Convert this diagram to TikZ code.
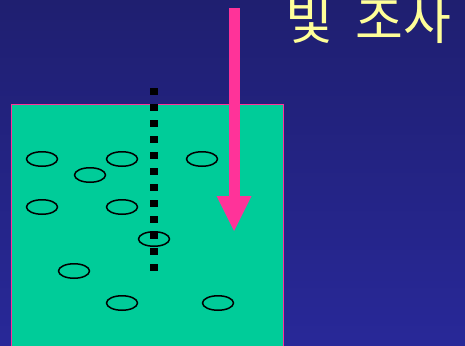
\documentclass[tikz,border=0pt]{standalone}
\usepackage{fontspec}
\newfontfamily\kofont{Noto Sans CJK KR}
\definecolor{bgtop}{RGB}{31,31,112}
\definecolor{bgbot}{RGB}{40,40,152}
\definecolor{tank}{RGB}{0,204,153}
\definecolor{hotpink}{RGB}{255,51,153}
\definecolor{lightyellow}{RGB}{255,255,153}
\tikzset{
  cell/.style={draw=black, line width=1.5pt, ellipse, minimum width=31pt, minimum height=14.5pt, inner sep=0pt},
  probe/.style={line width=7.5pt, dash pattern=on 7pt off 9pt},
}
\usetikzlibrary{shapes.geometric}
\begin{document}
\begin{tikzpicture}[x=1pt,y=-1pt]
\useasboundingbox (0,0) rectangle (465,345);
\clip (0,0) rectangle (465,345);
\shade[top color=bgtop, bottom color=bgbot] (0,0) rectangle (465,345);
\node[draw=hotpink, line width=1.5pt, fill=tank, minimum width=272pt, minimum height=250pt, inner sep=0pt, anchor=north west] (tank) at (10.5,103.5) {};
\foreach \n/\x/\y in {c1/42/159, c2/122/159, c3/202/159, c4/90/175, c5/42/207, c6/122/207, c7/154/239, c8/74/271, c9/122/303, c10/218/303}{
  \node[cell] (\n) at (\x,\y) {};
}
\coordinate (ptop) at (154,88);
\coordinate (pbot) at (154,271);
\draw[probe] (ptop) -- (pbot);
\coordinate (atop) at (234,8);
\coordinate (abase) at (234,196);
\coordinate (atip) at (234,231);
\fill[hotpink] ([xshift=-5.5pt]atop) rectangle ([xshift=5.5pt]abase);
\fill[hotpink] ([xshift=-17.5pt]abase) -- ([xshift=17.5pt]abase) -- (atip) -- cycle;
\node[anchor=base west, inner sep=0pt, text=lightyellow, font=\kofont\fontsize{52}{52}\selectfont] (label) at (285,40) {빛\hspace{11pt} 조\hspace{0pt}사};
\end{tikzpicture}
\end{document}
